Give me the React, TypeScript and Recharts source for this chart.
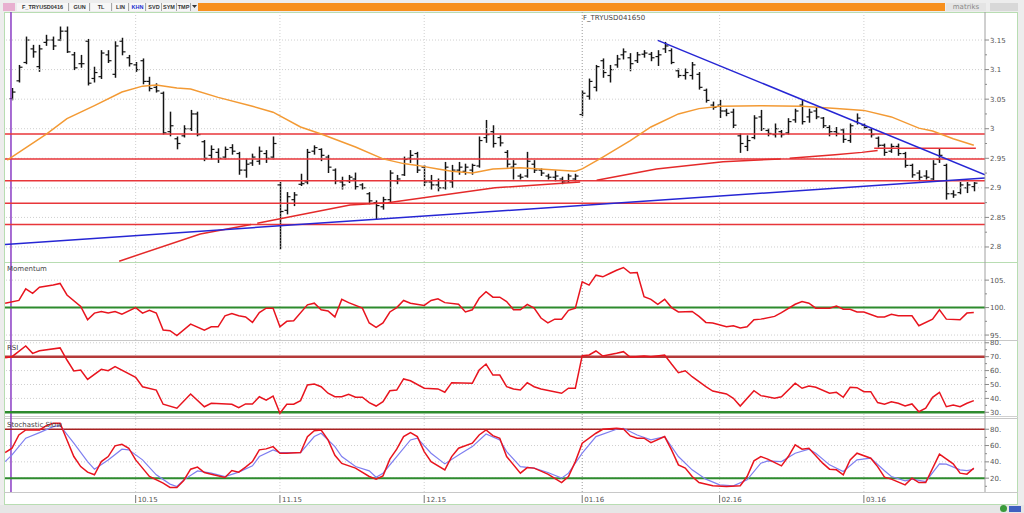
import { ComposedChart, Bar, Line, XAxis, YAxis, ReferenceLine } from 'recharts';

// x is the bar index; month ticks sit on the first trading day of each month
const X_MIN = -1.02;
const X_MAX = 141.63;
const MONTH_IDX = [18, 39, 60, 83, 103, 124];
const MONTH_LABELS = ['10.15', '11.15', '12.15', '01.16', '02.16', '03.16'];

const HIGH = [
  3.068, 3.107, 3.155, 3.141, 3.141, 3.158, 3.155, 3.172, 3.172, 3.129,
  3.124, 3.151, 3.104, 3.132, 3.132, 3.147, 3.153, 3.124, 3.112, 3.118,
  3.087, 3.076, 3.062, 3.028, 2.986, 3.005, 3.031, 3.028, 2.98, 2.971,
  2.966, 2.969, 2.973, 2.96, 2.949, 2.957, 2.969, 2.963, 2.986, 2.909,
  2.892, 2.892, 2.923, 2.965, 2.971, 2.966, 2.955, 2.932, 2.918, 2.921,
  2.925, 2.907, 2.892, 2.878, 2.884, 2.929, 2.921, 2.952, 2.963, 2.96,
  2.938, 2.921, 2.915, 2.943, 2.938, 2.943, 2.94, 2.94, 2.986, 3.014,
  3.005, 2.988, 2.963, 2.946, 2.923, 2.96, 2.946, 2.932, 2.923, 2.929,
  2.918, 2.923, 2.923, 3.064, 3.084, 3.107, 3.118, 3.107, 3.124, 3.135,
  3.127, 3.129, 3.132, 3.129, 3.132, 3.146, 3.135, 3.101, 3.101, 3.112,
  3.095, 3.067, 3.045, 3.048, 3.033, 3.033, 2.991, 2.988, 3.022, 3.031,
  3.0, 3.008, 2.997, 3.017, 3.033, 3.048, 3.033, 3.036, 3.019, 3.005,
  3.002, 3.0, 3.008, 3.025, 3.008, 3.0, 2.986, 2.974, 2.974, 2.974,
  2.96, 2.94, 2.929, 2.929, 2.946, 2.966, 2.94, 2.895, 2.909, 2.909,
  2.909,
];
const LOW = [
  3.049, 3.079, 3.11, 3.121, 3.097, 3.141, 3.134, 3.149, 3.129, 3.1,
  3.104, 3.074, 3.079, 3.085, 3.112, 3.087, 3.125, 3.106, 3.097, 3.076,
  3.064, 3.062, 2.991, 2.988, 2.966, 2.986, 2.997, 2.988, 2.946, 2.949,
  2.943, 2.949, 2.957, 2.923, 2.918, 2.938, 2.94, 2.943, 2.949, 2.797,
  2.856, 2.87, 2.904, 2.907, 2.957, 2.946, 2.926, 2.907, 2.898, 2.909,
  2.898, 2.898, 2.873, 2.847, 2.864, 2.876, 2.907, 2.921, 2.943, 2.926,
  2.904, 2.898, 2.895, 2.898, 2.901, 2.923, 2.923, 2.923, 2.935, 2.977,
  2.969, 2.971, 2.935, 2.915, 2.915, 2.918, 2.926, 2.921, 2.915, 2.912,
  2.907, 2.909, 2.912, 3.022, 3.05, 3.064, 3.087, 3.079, 3.104, 3.118,
  3.098, 3.112, 3.121, 3.115, 3.107, 3.129, 3.11, 3.087, 3.084, 3.084,
  3.067, 3.045, 3.033, 3.019, 3.022, 3.002, 2.96, 2.963, 2.983, 2.997,
  2.988, 2.986, 2.986, 2.991, 3.011, 3.008, 3.011, 3.017, 3.002, 2.988,
  2.988, 2.977, 2.977, 3.008, 3.0, 2.986, 2.969, 2.955, 2.96, 2.955,
  2.935, 2.918, 2.912, 2.915, 2.912, 2.943, 2.881, 2.884, 2.89, 2.892,
  2.895,
];
const OPEN = [
  3.051, 3.081, 3.112, 3.135, 3.105, 3.146, 3.15, 3.15, 3.165, 3.125,
  3.11, 3.148, 3.085, 3.088, 3.125, 3.092, 3.148, 3.12, 3.108, 3.115,
  3.08, 3.07, 3.06, 2.995, 2.983, 2.988, 3.0, 3.025, 2.978, 2.955,
  2.96, 2.952, 2.968, 2.958, 2.93, 2.942, 2.945, 2.958, 2.952, 2.905,
  2.862, 2.88, 2.906, 2.91, 2.962, 2.965, 2.952, 2.93, 2.91, 2.912,
  2.915, 2.905, 2.89, 2.875, 2.868, 2.88, 2.912, 2.922, 2.95, 2.958,
  2.935, 2.91, 2.905, 2.9, 2.91, 2.93, 2.928, 2.93, 2.937, 2.985,
  2.995, 2.985, 2.96, 2.935, 2.92, 2.92, 2.94, 2.93, 2.92, 2.918,
  2.915, 2.912, 2.915, 3.024, 3.055, 3.07, 3.115, 3.09, 3.108, 3.125,
  3.12, 3.115, 3.126, 3.126, 3.122, 3.135, 3.132, 3.098, 3.09, 3.09,
  3.092, 3.065, 3.04, 3.04, 3.03, 3.028, 2.988, 2.97, 2.985, 3.02,
  2.997, 2.99, 2.995, 2.993, 3.015, 3.04, 3.02, 3.03, 3.018, 3.002,
  2.995, 2.998, 2.98, 3.012, 3.006, 2.998, 2.984, 2.972, 2.962, 2.97,
  2.958, 2.938, 2.925, 2.92, 2.915, 2.948, 2.938, 2.89, 2.892, 2.9,
  2.902,
];
const CLOSE = [
  3.062, 3.104, 3.15, 3.13, 3.135, 3.15, 3.14, 3.165, 3.13, 3.103,
  3.11, 3.077, 3.095, 3.128, 3.115, 3.14, 3.13, 3.11, 3.1, 3.08,
  3.068, 3.064, 2.993, 3.005, 2.975, 3.0, 3.025, 2.99, 2.95, 2.965,
  2.95, 2.965, 2.962, 2.93, 2.94, 2.952, 2.962, 2.95, 2.975, 2.86,
  2.885, 2.888, 2.907, 2.96, 2.968, 2.955, 2.935, 2.912, 2.905, 2.918,
  2.902, 2.9, 2.878, 2.87, 2.88, 2.925, 2.915, 2.948, 2.955, 2.93,
  2.91, 2.905, 2.9, 2.935, 2.93, 2.935, 2.935, 2.938, 2.98, 2.99,
  2.975, 2.976, 2.94, 2.94, 2.918, 2.945, 2.93, 2.925, 2.918, 2.92,
  2.91, 2.92, 2.92, 3.06, 3.08, 3.105, 3.095, 3.1, 3.118, 3.13,
  3.11, 3.125, 3.128, 3.12, 3.125, 3.14, 3.112, 3.09, 3.095, 3.108,
  3.07, 3.048, 3.036, 3.03, 3.026, 3.006, 2.975, 2.98, 3.018, 3.0,
  2.992, 3.0, 2.99, 3.012, 3.03, 3.012, 3.028, 3.02, 3.005, 2.995,
  2.992, 2.982, 3.005, 3.018, 3.002, 2.99, 2.972, 2.96, 2.97, 2.958,
  2.938, 2.922, 2.918, 2.918, 2.94, 2.955, 2.89, 2.888, 2.905, 2.905,
  2.908,
];

// moving averages, [bar index, value]; null marks a break in the line
const ORANGE_MA: [number, number][] = [
  [-0.7, 2.947], [5, 2.991], [8, 3.017], [12, 3.039], [16, 3.062], [19, 3.072], [21, 3.074],
  [24, 3.069], [26, 3.067], [30, 3.053], [35, 3.038], [38, 3.028], [42, 3.003], [45, 2.991],
  [50, 2.969], [54, 2.949], [57, 2.941], [59, 2.938], [62, 2.932], [64, 2.928], [67, 2.925],
  [70, 2.932], [74, 2.934], [82, 2.928], [83, 2.932], [86, 2.952], [90, 2.98], [93, 3.003],
  [97, 3.025], [100, 3.034], [103, 3.038], [109, 3.039], [115, 3.038], [120, 3.034],
  [124, 3.031], [128, 3.02], [132, 3.001], [134, 2.996], [137, 2.983], [140, 2.972],
];
const RED_MA: [number, number | null][] = [
  [15.6, 2.776], [27.4, 2.822], [34.8, 2.838], [35.2, null], [35.7, 2.84], [49.2, 2.871],
  [54.7, 2.875], [70.3, 2.9], [82.7, 2.91], [84, null], [85.1, 2.913], [93.8, 2.932],
  [103.5, 2.944], [111.9, 2.949], [112.6, null], [113.2, 2.95], [119.8, 2.956],
  [123.7, 2.96], [126, 2.963],
];
const RED_LEVELS = [2.991, 2.949, 2.912, 2.874, 2.838];
const SHORT_LEVEL = { from: 125.5, to: 140.3, value: 2.967 };
const TREND_LINES = [
  { x1: X_MIN, y1: 2.8043, x2: X_MAX, y2: 2.9165 },
  { x1: 94.0, y1: 3.1495, x2: X_MAX, y2: 2.922 },
];

const MOMENTUM: [number, number][] = [
  [-1, 100.8], [1, 101.3], [2, 103.4], [3, 102.6], [4, 103.7], [6, 104.1], [7, 104.4], [8, 102.3],
  [10, 100.2], [11, 97.8], [12, 99.0], [13, 99.3], [14, 99.0], [15, 99.3], [16, 98.8], [18, 100.0],
  [19, 99.0], [20, 99.5], [21, 99.0], [22, 95.9], [23, 95.8], [24, 94.9], [26, 97.0], [28, 95.9],
  [29, 96.5], [30, 96.5], [31, 98.5], [32, 98.9], [33, 98.5], [34, 98.3], [35, 97.3], [36, 99.1],
  [37, 99.9], [38, 99.9], [39, 96.5], [40, 97.5], [41, 97.6], [43, 100.5], [44, 100.8], [45, 99.6],
  [46, 99.4], [47, 98.3], [48, 101.5], [49, 100.9], [51, 99.9], [52, 97.2], [53, 96.4], [54, 97.2],
  [55, 99.2], [56, 100.0], [57, 101.3], [58, 100.8], [60, 100.4], [61, 101.3], [62, 101.6],
  [63, 100.9], [65, 100.6], [66, 99.2], [67, 99.6], [68, 101.7], [69, 102.9], [70, 101.9],
  [71, 101.9], [72, 101.1], [73, 99.6], [74, 99.6], [75, 100.6], [76, 99.9], [77, 98.1], [78, 97.2],
  [79, 97.9], [80, 97.9], [81, 99.5], [82, 99.9], [83, 104.7], [84, 104.1], [85, 105.9],
  [86, 105.6], [87, 106.2], [88, 106.8], [89, 107.3], [90, 106.3], [91, 106.4], [92, 102.0],
  [93, 101.5], [94, 100.6], [95, 101.5], [96, 100.0], [97, 99.2], [99, 99.3], [100, 98.4],
  [101, 97.3], [102, 97.2], [104, 96.5], [105, 96.7], [106, 96.3], [107, 96.5], [108, 97.8],
  [109, 97.9], [111, 98.4], [112, 99.1], [114, 100.6], [115, 101.1], [116, 100.8], [117, 99.9],
  [119, 99.9], [120, 100.3], [121, 99.7], [122, 99.7], [123, 99.2], [124, 99.2], [126, 98.3],
  [127, 98.3], [128, 98.8], [129, 98.5], [131, 98.5], [132, 96.7], [134, 97.9], [135, 99.6],
  [136, 97.9], [138, 97.8], [139, 99.0], [140, 99.1],
];

const RSI: [number, number][] = [
  [-1, 69.3], [0, 70], [2, 77.7], [3, 72.4], [4, 74.3], [7, 76.3], [8, 67.6], [9, 59.7], [10, 60.4],
  [11, 53.7], [13, 60.9], [14, 59.9], [15, 62.8], [18, 55.2], [19, 48.4], [21, 46.0], [22, 35.8],
  [24, 32.9], [26, 43.2], [28, 34.0], [29, 36.5], [32, 35.8], [33, 33.3], [34, 36.0], [35, 36.0],
  [36, 41.2], [37, 38.8], [38, 41.7], [39, 29.3], [40, 35.8], [41, 35.8], [42, 38.4], [43, 49.6],
  [44, 50.4], [45, 48.4], [46, 43.7], [47, 41.2], [48, 41.2], [49, 43.0], [50, 40.8], [51, 40.8],
  [52, 36.9], [53, 34.5], [54, 37.6], [55, 45.5], [56, 46.0], [57, 54.0], [58, 52.7], [60, 47.3],
  [62, 46.8], [63, 44.4], [64, 51.3], [67, 50.9], [68, 60.4], [69, 64.7], [70, 56.8], [71, 56.8],
  [72, 48.4], [73, 46.8], [74, 46.0], [75, 51.3], [76, 48.4], [77, 46.8], [80, 43.7], [81, 47.3],
  [82, 47.3], [83, 70.7], [84, 71.2], [85, 74.1], [86, 70.5], [88, 72.4], [89, 73.6], [90, 69.6],
  [92, 70.5], [93, 70.0], [95, 71.2], [96, 64.7], [97, 58.5], [98, 59.9], [99, 55.6], [101, 48.4],
  [102, 45.3], [104, 43.2], [105, 40.1], [106, 34.5], [108, 45.5], [109, 42.0], [111, 40.1],
  [112, 41.2], [114, 50.9], [115, 47.3], [116, 48.9], [117, 48.0], [119, 43.7], [120, 44.4],
  [121, 40.8], [122, 48.0], [123, 47.7], [124, 44.8], [125, 44.8], [126, 37.0], [127, 35.8],
  [128, 37.6], [129, 36.5], [130, 34.5], [131, 36.0], [132, 30.4], [133, 32.9], [134, 40.8],
  [135, 44.4], [136, 34.0], [137, 35.3], [138, 34.0], [139, 36.5], [140, 38.4],
];

const STOCH_K: [number, number][] = [
  [-1, 51.4], [0, 56.7], [1, 73.0], [2, 79.1], [4, 79.1], [5, 84.4], [6, 87.3], [7, 87.3], [8, 66.9],
  [9, 46.5], [10, 34.2], [11, 27.4], [12, 24.1], [13, 40.3], [14, 46.5], [15, 59.6], [16, 61.6],
  [17, 56.7], [18, 42.4], [19, 32.3], [20, 22.0], [22, 13.9], [23, 8.6], [24, 8.6], [25, 17.1],
  [26, 31.0], [27, 33.5], [28, 26.9], [29, 24.9], [31, 20.8], [32, 29.3], [33, 27.4], [34, 33.5],
  [35, 40.3], [36, 54.7], [37, 55.9], [38, 58.7], [39, 50.6], [40, 50.6], [42, 51.4], [43, 71.0],
  [44, 78.3], [45, 79.1], [46, 66.9], [47, 48.0], [48, 38.0], [50, 32.3], [52, 22.0], [53, 18.8],
  [54, 22.8], [55, 43.3], [56, 55.5], [57, 71.0], [58, 75.8], [59, 71.0], [60, 52.6], [61, 40.3],
  [63, 30.2], [64, 46.5], [65, 56.7], [67, 62.9], [68, 73.0], [69, 79.1], [70, 72.2], [71, 69.0],
  [72, 46.5], [74, 26.1], [75, 33.0], [76, 32.3], [78, 24.9], [80, 14.6], [81, 22.0], [82, 40.3],
  [83, 62.9], [85, 75.1], [86, 80.0], [88, 81.2], [89, 80.4], [90, 71.8], [91, 69.0], [92, 69.0],
  [93, 63.6], [95, 71.0], [96, 54.7], [97, 36.3], [98, 32.3], [99, 22.0], [100, 14.6], [102, 10.6],
  [104, 9.8], [106, 10.6], [107, 22.0], [108, 41.2], [109, 46.5], [110, 43.3], [112, 35.1],
  [113, 46.5], [114, 60.8], [115, 55.5], [116, 56.7], [118, 38.4], [119, 31.0], [120, 30.2],
  [121, 24.1], [122, 42.4], [123, 50.6], [125, 44.5], [126, 34.2], [127, 21.2], [128, 18.8],
  [130, 11.8], [131, 20.0], [132, 14.6], [133, 14.6], [135, 49.4], [137, 37.5], [138, 26.1],
  [139, 24.9], [140, 32.3],
];
const STOCH_D: [number, number][] = [
  [-1, 40.3], [0, 48.5], [2, 69.0], [4, 75.8], [6, 83.2], [7, 84.4], [9, 62.9], [11, 40.3],
  [12, 31.0], [14, 42.4], [16, 55.5], [17, 54.7], [19, 42.4], [21, 24.1], [23, 12.7], [24, 9.8],
  [25, 17.9], [27, 28.9], [29, 26.1], [31, 22.0], [33, 27.4], [35, 35.1], [36, 46.5], [38, 54.7],
  [39, 51.4], [42, 51.4], [44, 71.0], [45, 75.1], [47, 58.7], [48, 46.5], [50, 34.2], [52, 29.0],
  [53, 21.2], [54, 26.1], [56, 46.5], [58, 66.9], [59, 69.0], [61, 50.6], [63, 37.5], [65, 48.5],
  [67, 58.7], [69, 74.2], [71, 66.9], [72, 52.6], [74, 34.2], [76, 32.3], [78, 26.9], [80, 20.0],
  [81, 26.1], [83, 50.6], [85, 71.0], [88, 80.0], [89, 81.2], [91, 73.0], [93, 66.9], [95, 71.0],
  [97, 46.5], [99, 30.2], [101, 18.8], [103, 11.8], [105, 10.6], [107, 17.9], [109, 38.4],
  [110, 41.2], [112, 40.3], [114, 50.6], [116, 55.5], [117, 50.6], [119, 36.3], [121, 28.1],
  [123, 42.4], [125, 44.5], [127, 29.0], [128, 22.0], [130, 16.7], [131, 18.8], [133, 15.9],
  [135, 37.5], [136, 37.1], [138, 30.2], [139, 29.3], [140, 30.9],
];

const PRICE_TICKS = [2.8, 2.85, 2.9, 2.95, 3, 3.05, 3.1, 3.15];
const MOM_TICKS = [95, 100, 105];
const RSI_TICKS = [30, 40, 50, 60, 70, 80];
const STOCH_TICKS = [20, 40, 60, 80];

const FONT = '"DejaVu Sans", Verdana, sans-serif';
const W = 1017;
const MARGIN = { top: 0, right: 0, bottom: 0, left: 5 };
const CURSOR_X = -0.15;

const pts = (arr: [number, number | null][]) => arr.map(([i, v]) => ({ i, v }));

function OhlcBar(props: any) {
  const { x, y, width, height, payload } = props;
  const cx = Math.round(x + width / 2) + 0.5;
  const top = Math.min(y, y + height);
  const bot = Math.max(y, y + height);
  const span = payload.h - payload.l || 1;
  const yo = top + ((payload.h - payload.o) / span) * (bot - top);
  const yc = top + ((payload.h - payload.c) / span) * (bot - top);
  return (
    <g stroke="#141414">
      <line x1={cx} x2={cx} y1={top - 0.5} y2={bot + 0.5} strokeWidth={1.5} />
      <line x1={cx - 3} x2={cx} y1={yo} y2={yo} strokeWidth={1.2} />
      <line x1={cx} x2={cx + 3} y1={yc} y2={yc} strokeWidth={1.2} />
    </g>
  );
}

function YTick(props: any) {
  const { x, y, payload, fmt } = props;
  const label = fmt(payload.value);
  return (
    <g>
      <line x1={x} x2={x + (label ? 4 : 2)} y1={y} y2={y} stroke="#8a8a8a" />
      {label && (
        <text x={x + 5} y={y + 2.5} fontSize={7} fill="#555" fontFamily={FONT}>
          {label}
        </text>
      )}
    </g>
  );
}

function XTick(props: any) {
  const { x, y, payload } = props;
  const k = MONTH_IDX.indexOf(payload.value);
  return (
    <g>
      <line x1={x} x2={x} y1={y + 3} y2={y + 11} stroke="#777" />
      <text x={x + 2} y={y + 10} fontSize={7} fill="#555" fontFamily={FONT}>
        {MONTH_LABELS[k]}
      </text>
    </g>
  );
}

const withMinors = (major: number[], step: number, extra: number[] = []) =>
  [...major, ...major.slice(0, -1).map((v) => v + step / 2), ...extra].sort((a, b) => a - b);

function grid(values: number[]) {
  return [
    ...values.map((v) => (
      <ReferenceLine key={'h' + v} y={v} stroke="#cfcfcf" strokeDasharray="1 2" ifOverflow="hidden" />
    )),
    ...MONTH_IDX.map((m) => (
      <ReferenceLine
        key={'v' + m}
        x={m}
        stroke={m === 83 ? '#9a9a9a' : '#cfcfcf'}
        strokeDasharray="1 2"
        ifOverflow="hidden"
      />
    )),
    <ReferenceLine key="cur" x={CURSOR_X} stroke="#8a3cc4" strokeWidth={1.5} ifOverflow="hidden" />,
  ];
}

function xAxis(show = false) {
  return (
    <XAxis
      type="number"
      dataKey="i"
      domain={[X_MIN, X_MAX]}
      allowDataOverflow
      ticks={MONTH_IDX}
      hide={!show}
      height={show ? 13 : 0}
      axisLine={false}
      tickLine={false}
      tickSize={0}
      tickMargin={0}
      tick={<XTick />}
      interval={0}
    />
  );
}

function yAxis(domain: [number, number], ticks: number[], fmt: (v: number) => string) {
  return (
    <YAxis
      orientation="right"
      width={32}
      domain={domain}
      allowDataOverflow
      ticks={ticks}
      interval={0}
      axisLine={{ stroke: '#a0a0a0' }}
      tickLine={false}
      tickSize={0}
      tickMargin={0}
      tick={<YTick fmt={fmt} />}
    />
  );
}

const isMult = (v: number, s: number) => Math.abs(v / s - Math.round(v / s)) < 1e-6;

const TABS = [
  { t: 'F_TRYUSD0416', left: 17, w: 52 },
  { t: 'GUN', left: 70, w: 20 },
  { t: 'TL', left: 91, w: 21 },
  { t: 'LIN', left: 113, w: 16 },
  { t: 'KHN', left: 130, w: 16, c: '#2030d0' },
  { t: 'SVD', left: 147, w: 15 },
  { t: 'SYM', left: 162, w: 15 },
  { t: 'TMP', left: 177, w: 14 },
];

export default function App() {
  const bars = HIGH.map((h, i) => ({ i, h, l: LOW[i], o: OPEN[i], c: CLOSE[i], hl: [LOW[i], h] }));

  const hLine = (top: number, color: string) => (
    <div style={{ position: 'absolute', left: 4, top, width: 1014, height: 1, background: color }} />
  );
  const label = (text: string, left: number, top: number) => (
    <div
      style={{
        position: 'absolute', left, top, fontSize: 7, lineHeight: '8px', color: '#444',
        fontFamily: FONT, whiteSpace: 'nowrap',
      }}
    >
      {text}
    </div>
  );

  return (
    <div
      style={{
        position: 'absolute', left: 0, top: 0, width: 1024, height: 513, overflow: 'hidden',
        background: '#ededed', fontFamily: FONT,
      }}
    >
      {/* toolbar */}
      <div style={{ position: 'absolute', left: 3, top: 3, width: 12, height: 8, background: '#e8b0d0' }} />
      {TABS.map((tab) => (
        <div
          key={tab.t}
          style={{
            position: 'absolute', left: tab.left, top: 3, width: tab.w, height: 8,
            borderRight: '1px solid #a8a8a8', boxSizing: 'border-box', background: '#f7f7f7',
            fontSize: 5.5, lineHeight: '8px', fontWeight: 'bold', color: tab.c || '#333',
            fontFamily: '"Liberation Sans", Arial, sans-serif', textAlign: 'center',
            overflow: 'hidden', whiteSpace: 'nowrap',
          }}
        >
          {tab.t}
        </div>
      ))}
      <svg style={{ position: 'absolute', left: 192, top: 5 }} width={5} height={4}>
        <path d="M0 0 L5 0 L2.5 3 Z" fill="#333" />
      </svg>
      <div style={{ position: 'absolute', left: 198, top: 3, width: 747, height: 8, background: '#f7901e' }} />
      <div
        style={{
          position: 'absolute', left: 946, top: 3, width: 40, height: 8, background: '#e4e4e4',
          fontSize: 7, lineHeight: '8px', color: '#888', textAlign: 'center',
        }}
      >
        matriks
      </div>
      <div style={{ position: 'absolute', left: 990, top: 3, width: 28, height: 8, background: '#d8d8d8' }} />

      {/* chart frame */}
      <div
        style={{
          position: 'absolute', left: 4, top: 12, width: 1014, height: 493, background: '#fff',
          border: '1px solid #b8ddb2', boxSizing: 'border-box',
        }}
      />
      {hLine(262, '#b8ddb2')}
      {hLine(340, '#c8c8c8')}
      {hLine(416, '#d0d0d0')}
      {hLine(418, '#c8c8c8')}
      {hLine(492, '#c8c8c8')}

      {/* price panel */}
      <div style={{ position: 'absolute', left: 0, top: 12 }}>
        <ComposedChart width={W} height={250} data={bars} margin={MARGIN}>
          {xAxis()}
          {yAxis([2.7746, 3.1974], withMinors(PRICE_TICKS, 0.05), (v) =>
            isMult(v, 0.05) ? String(+v.toFixed(2)) : '')}
          {grid(PRICE_TICKS)}
          {RED_LEVELS.map((v) => (
            <ReferenceLine key={v} y={v} stroke="#e8363a" strokeWidth={1.5} ifOverflow="hidden" />
          ))}
          <ReferenceLine
            segment={[{ x: SHORT_LEVEL.from, y: SHORT_LEVEL.value }, { x: SHORT_LEVEL.to, y: SHORT_LEVEL.value }]}
            stroke="#e8363a"
            strokeWidth={1.5}
            ifOverflow="hidden"
          />
          <Line
            data={pts(ORANGE_MA)}
            dataKey="v"
            type="linear"
            stroke="#f39a34"
            strokeWidth={1.5}
            dot={false}
            activeDot={false}
            isAnimationActive={false}
          />
          <Line
            data={pts(RED_MA)}
            dataKey="v"
            type="linear"
            stroke="#e42a2a"
            strokeWidth={1.5}
            dot={false}
            activeDot={false}
            connectNulls={false}
            isAnimationActive={false}
          />
          {TREND_LINES.map((t, k) => (
            <ReferenceLine
              key={'t' + k}
              segment={[{ x: t.x1, y: t.y1 }, { x: t.x2, y: t.y2 }]}
              stroke="#2626d4"
              strokeWidth={1.5}
              ifOverflow="hidden"
            />
          ))}
          <Bar dataKey="hl" barSize={5} shape={<OhlcBar />} isAnimationActive={false} />
        </ComposedChart>
      </div>

      {/* momentum */}
      <div style={{ position: 'absolute', left: 0, top: 262 }}>
        <ComposedChart width={W} height={78} data={pts(MOMENTUM)} margin={MARGIN}>
          {xAxis()}
          {yAxis([94.1, 108.3], withMinors(MOM_TICKS, 5), (v) => (isMult(v, 5) ? `${v}.` : ''))}
          {grid(MOM_TICKS)}
          <ReferenceLine y={100} stroke="#2e8b2e" strokeWidth={2} />
          <Line dataKey="v" type="linear" stroke="#e8141e" strokeWidth={1.5} dot={false} activeDot={false} isAnimationActive={false} />
        </ComposedChart>
      </div>

      {/* RSI */}
      <div style={{ position: 'absolute', left: 0, top: 340 }}>
        <ComposedChart width={W} height={78} data={pts(RSI)} margin={MARGIN}>
          {xAxis()}
          {yAxis([25.9, 82.0], withMinors(RSI_TICKS, 10), (v) => (isMult(v, 10) ? `${v}.` : ''))}
          {grid(RSI_TICKS)}
          <ReferenceLine y={70} stroke="#b53a3a" strokeWidth={2.5} />
          <ReferenceLine y={30} stroke="#2e8b2e" strokeWidth={2.5} />
          <Line dataKey="v" type="linear" stroke="#e8141e" strokeWidth={1.5} dot={false} activeDot={false} isAnimationActive={false} />
        </ComposedChart>
      </div>

      {/* stochastic slow */}
      <div style={{ position: 'absolute', left: 0, top: 418 }}>
        <ComposedChart width={W} height={87} data={pts(STOCH_K)} margin={MARGIN}>
          {xAxis(true)}
          {yAxis([3.0, 93.8], withMinors(STOCH_TICKS, 20, [10]), (v) => (isMult(v, 20) ? `${v}.` : ''))}
          {grid(STOCH_TICKS)}
          <ReferenceLine y={80} stroke="#a82222" strokeWidth={1.5} />
          <ReferenceLine y={20} stroke="#2e8b2e" strokeWidth={2} />
          <Line data={pts(STOCH_D)} dataKey="v" type="linear" stroke="#7f7ff0" strokeWidth={1.2} dot={false} activeDot={false} isAnimationActive={false} />
          <Line dataKey="v" type="linear" stroke="#e8141e" strokeWidth={1.5} dot={false} activeDot={false} isAnimationActive={false} />
        </ComposedChart>
      </div>

      {label('F_TRYUSD041650', 583, 14)}
      {label('Momentum', 7, 265)}
      {label('RSI', 7, 344)}
      {label('Stochastic.Slow', 7, 421)}

      {/* bottom strip */}
      <div style={{ position: 'absolute', left: 0, top: 505, width: 1024, height: 8, background: '#e6e6e6' }} />
      <div style={{ position: 'absolute', left: 1000, top: 505, width: 7, height: 7, borderRadius: 4, background: '#3a9a3a' }} />
      <div style={{ position: 'absolute', left: 1009, top: 506, width: 12, height: 6, background: '#4060c0' }} />
    </div>
  );
}
